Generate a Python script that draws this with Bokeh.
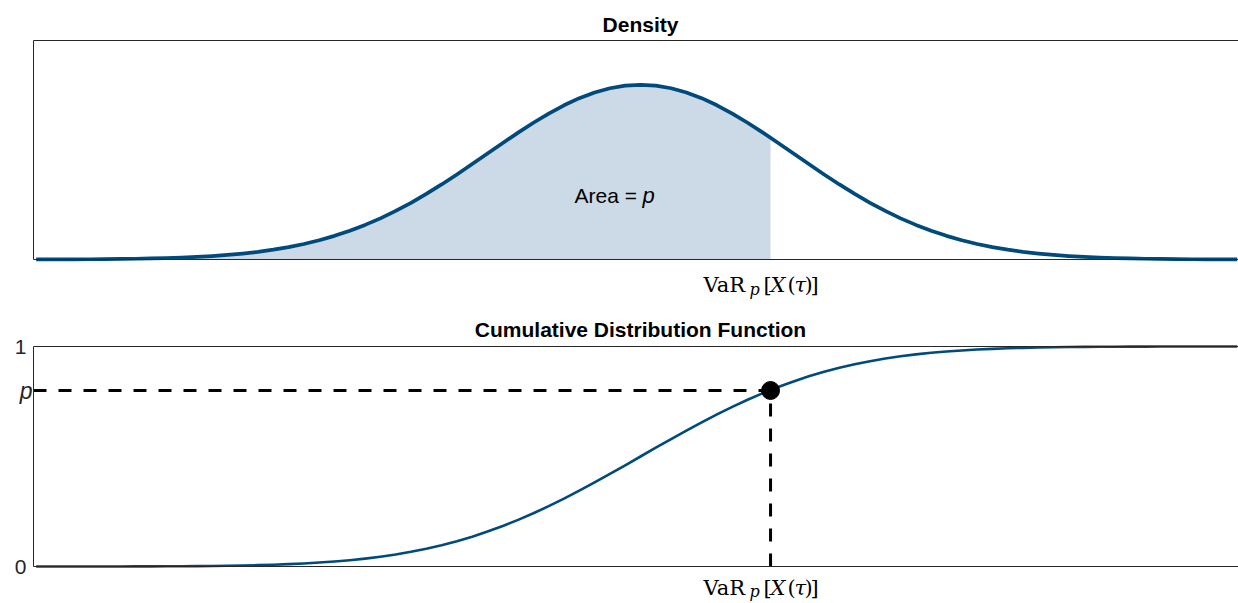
from bokeh.plotting import figure
from bokeh.layouts import column
from bokeh.models import Label, LinearAxis, FixedTicker, Range1d
from bokeh.embed import file_html
from bokeh.resources import INLINE

# ---- data (x in units of the distribution's std) ----
x_grid = [-3.95, -3.9, -3.8, -3.7, -3.6, -3.5, -3.4, -3.3, -3.2, -3.1,
          -3.0, -2.9, -2.8, -2.7, -2.6, -2.5, -2.4, -2.3, -2.2, -2.1,
          -2.0, -1.9, -1.8, -1.7, -1.6, -1.5, -1.4, -1.3, -1.2, -1.1,
          -1.0, -0.9, -0.8, -0.7, -0.6, -0.5, -0.4, -0.3, -0.2, -0.1,
          0.0, 0.1, 0.2, 0.3, 0.4, 0.5, 0.6, 0.7, 0.8, 0.9,
          1.0, 1.1, 1.2, 1.3, 1.4, 1.5, 1.6, 1.7, 1.8, 1.9,
          2.0, 2.1, 2.2, 2.3, 2.4, 2.5, 2.6, 2.7, 2.8, 2.9,
          3.0, 3.1, 3.2, 3.3, 3.4, 3.5, 3.6, 3.7, 3.8, 3.9]
density = [0.0002, 0.0002, 0.0003, 0.0004, 0.0006, 0.0009, 0.0012, 0.0017, 0.0024, 0.0033,
           0.0044, 0.0060, 0.0079, 0.0104, 0.0136, 0.0175, 0.0224, 0.0283, 0.0355, 0.0440,
           0.0540, 0.0656, 0.0790, 0.0940, 0.1109, 0.1295, 0.1497, 0.1714, 0.1942, 0.2179,
           0.2420, 0.2661, 0.2897, 0.3123, 0.3332, 0.3521, 0.3683, 0.3814, 0.3910, 0.3970,
           0.3989, 0.3970, 0.3910, 0.3814, 0.3683, 0.3521, 0.3332, 0.3123, 0.2897, 0.2661,
           0.2420, 0.2179, 0.1942, 0.1714, 0.1497, 0.1295, 0.1109, 0.0940, 0.0790, 0.0656,
           0.0540, 0.0440, 0.0355, 0.0283, 0.0224, 0.0175, 0.0136, 0.0104, 0.0079, 0.0060,
           0.0044, 0.0033, 0.0024, 0.0017, 0.0012, 0.0009, 0.0006, 0.0004, 0.0003, 0.0002]
cdf = [0.0000, 0.0000, 0.0001, 0.0001, 0.0002, 0.0002, 0.0003, 0.0005, 0.0007, 0.0010,
       0.0013, 0.0019, 0.0026, 0.0035, 0.0047, 0.0062, 0.0082, 0.0107, 0.0139, 0.0179,
       0.0228, 0.0287, 0.0359, 0.0446, 0.0548, 0.0668, 0.0808, 0.0968, 0.1151, 0.1357,
       0.1587, 0.1841, 0.2119, 0.2420, 0.2743, 0.3085, 0.3446, 0.3821, 0.4207, 0.4602,
       0.5000, 0.5398, 0.5793, 0.6179, 0.6554, 0.6915, 0.7257, 0.7580, 0.7881, 0.8159,
       0.8413, 0.8643, 0.8849, 0.9032, 0.9192, 0.9332, 0.9452, 0.9554, 0.9641, 0.9713,
       0.9772, 0.9821, 0.9861, 0.9893, 0.9918, 0.9938, 0.9953, 0.9965, 0.9974, 0.9981,
       0.9987, 0.9990, 0.9993, 0.9995, 0.9997, 0.9998, 0.9998, 0.9999, 0.9999, 1.0000]
var_x = 0.85            # VaR_p location
p_level = 0.80          # p
density_at_var = 0.278  # density height at VaR
density_top = 0.5       # top of the density axes
cdf_ticks = [0, 1]
cdf_tick_labels = {0: "0", 1: "1"}
titles = ["Density", "Cumulative Distribution Function"]

# ---- styling / geometry ----
BLUE = "#004a7c"
FILL = "#cbdae6"
AX = "#262626"
SANS = "Liberation Sans"
SERIF = "DejaVu Serif"

W = 1238
PX_X = 153.0            # pixels per x unit
X_MID = 640             # pixel column of x = 0
X_START = (0 - X_MID) / PX_X
X_END = (W - X_MID) / PX_X
X_LEFT = (33 - X_MID) / PX_X   # left edge of the boxed axes

# figure 1 spans page rows 0..303, axes box rows 40..259
H1, B1, PX_Y1 = 303, 259, 219 / density_top
# figure 2 spans page rows 303..603, axes box rows 346..566
H2, B2, PX_Y2 = 300, 566, 220.0
T2 = 303
SHIFT = 8               # renderer draws alphabetic baselines this much lower


def y1(row):
    return (B1 - row + SHIFT) / PX_Y1


def y2(row):
    return (B2 - row + SHIFT) / PX_Y2


def x_at(col):
    return (col - X_MID) / PX_X


def make_fig(height, y_lo, y_hi):
    p = figure(width=W, height=height, x_range=Range1d(X_START, X_END),
               y_range=Range1d(y_lo, y_hi), min_border=0,
               x_axis_location=None, y_axis_location=None,
               output_backend="svg", toolbar_location=None)
    p.grid.visible = False
    p.outline_line_color = None
    p.background_fill_color = "white"
    p.border_fill_color = "white"
    return p


def box_axes(p, top_value, yticks=None, ylabels=None):
    common = dict(axis_line_color=AX, axis_line_width=1, major_tick_line_color=None,
                  minor_tick_line_color=None)
    bottom = LinearAxis(fixed_location=0, bounds=(X_LEFT, X_END),
                        ticker=FixedTicker(ticks=[]), major_label_text_color=None, **common)
    top = LinearAxis(fixed_location=top_value, bounds=(X_LEFT, X_END),
                     ticker=FixedTicker(ticks=[]), major_label_text_color=None, **common)
    left = LinearAxis(fixed_location=X_LEFT, bounds=(0, top_value),
                      ticker=FixedTicker(ticks=yticks or []), **common)
    if yticks:
        left.major_label_overrides = ylabels
        left.major_label_text_font = SANS
        left.major_label_text_font_size = "21px"
        left.major_label_text_color = AX
        left.major_label_standoff = 1
    else:
        left.major_label_text_color = None
    p.add_layout(bottom, "below")
    p.add_layout(top, "above")
    p.add_layout(left, "left")


def label(p, x, y, text, x_offset=0, font=SANS, size="21px", style_="normal",
          align="left", baseline="alphabetic", color="black"):
    p.add_layout(Label(x=x, y=y, x_offset=x_offset, text=text, text_font=font,
                       text_font_size=size, text_font_style=style_, text_color=color,
                       text_align=align, text_baseline=baseline))


def var_label(p, y_base, y_sub):
    parts = [("VaR", -67, "normal", "21px", y_base),
             ("p", -21, "italic", "16px", y_sub),
             ("[", -7, "normal", "21px", y_base),
             ("X", 0, "italic", "21px", y_base),
             ("(", 17, "normal", "21px", y_base),
             ("τ", 24, "italic", "21px", y_base),
             (")", 34, "normal", "21px", y_base),
             ("]", 40, "normal", "21px", y_base)]
    for txt, off, st, fs, yy in parts:
        label(p, var_x, yy, txt, x_offset=off, font=SERIF, size=fs, style_=st)


# ---------------- top: density ----------------
p1 = make_fig(H1, (B1 - H1) / PX_Y1, B1 / PX_Y1)
shade_x = [x for x in x_grid if x <= var_x] + [var_x]
shade_y = [d for x, d in zip(x_grid, density) if x <= var_x] + [density_at_var]
p1.varea(x=shade_x, y1=[0] * len(shade_x), y2=shade_y, fill_color=FILL)
p1.line(x_grid, density, line_color=BLUE, line_width=3.7, line_join="round")
box_axes(p1, density_top)

label(p1, 0, y1(32), titles[0], style_="bold", align="center")
label(p1, x_at(615), y1(203), "Area = ", x_offset=-41)
label(p1, x_at(615), y1(203), "p", x_offset=27, style_="italic", size="22px")
var_label(p1, y1(292), y1(297))

# ---------------- bottom: CDF ----------------
p2 = make_fig(H2, (B2 - T2 - H2) / PX_Y2, (B2 - T2) / PX_Y2)
p2.line(x_grid, cdf, line_color=BLUE, line_width=2.6, line_join="round")
box_axes(p2, 1, cdf_ticks, cdf_tick_labels)
p2.segment(x0=[X_LEFT, var_x], y0=[p_level, 0], x1=[var_x, var_x], y1=[p_level, p_level],
           line_color="black", line_width=3, line_dash="13 12")
p2.scatter([var_x], [p_level], size=18, color="black")

label(p2, 0, y2(337), titles[1], style_="bold", align="center")
label(p2, X_LEFT, p_level, "p", x_offset=-1, style_="italic", size="23px", align="right",
      baseline="middle", color=AX)
var_label(p2, y2(595), y2(599))

layout = column(p1, p2, spacing=0)
open("out.html", "w").write(file_html(layout, INLINE))
